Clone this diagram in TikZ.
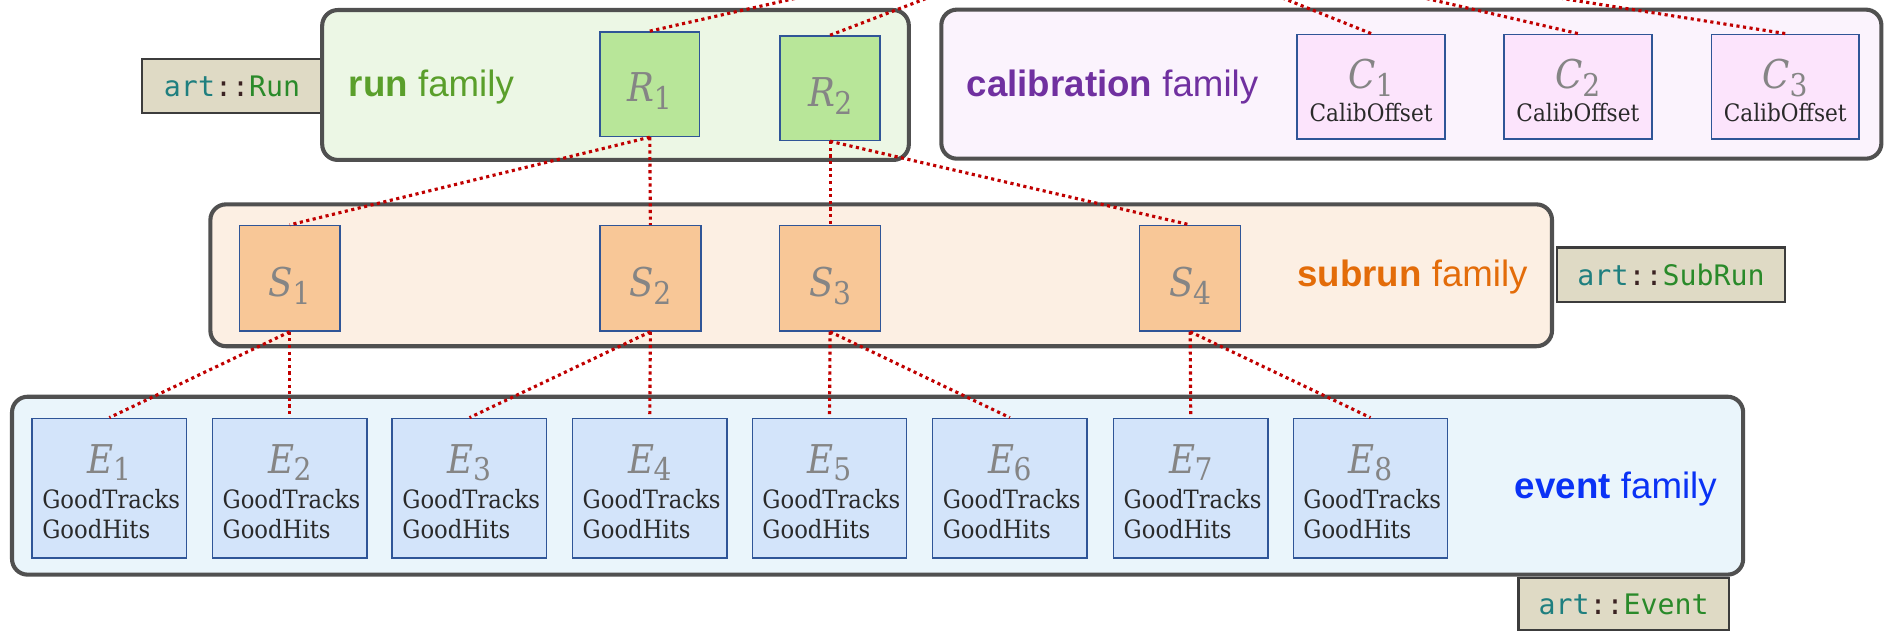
\documentclass[tikz,border=0pt]{standalone}
\usepackage{fontspec}
\setsansfont{Liberation Sans}
\newfontfamily\monof{DejaVu Sans Mono}
\newfontfamily\prodf{DejaVu Serif Condensed}
\definecolor{famborder}{HTML}{505050}
\definecolor{artborder}{HTML}{3C3C3C}
\definecolor{artfill}{HTML}{DFDAC5}
\definecolor{artteal}{HTML}{1F7F7F}
\definecolor{artdark}{HTML}{3A2222}
\definecolor{artgreen}{HTML}{2A8A2A}
\definecolor{runfill}{HTML}{ECF7E5}
\definecolor{rfill}{HTML}{B8E699}
\definecolor{calfill}{HTML}{FBF3FD}
\definecolor{cfill}{HTML}{FCE4FC}
\definecolor{subfill}{HTML}{FCEFE3}
\definecolor{sfill}{HTML}{F8C797}
\definecolor{evfill}{HTML}{EAF5FB}
\definecolor{efill}{HTML}{D3E4FA}
\definecolor{elemborder}{HTML}{2F5597}
\definecolor{symgray}{HTML}{858585}
\definecolor{prodtext}{HTML}{2A2A2A}
\definecolor{runcol}{HTML}{5A9F2B}
\definecolor{calcol}{HTML}{7030A0}
\definecolor{subcol}{HTML}{E36C09}
\definecolor{evcol}{HTML}{0A32F5}
\definecolor{linkred}{HTML}{C00000}
\newcommand{\artname}[1]{\textcolor{artteal}{art}\textcolor{artdark}{::}\textcolor{artgreen}{#1}}
\newcommand{\symlab}[2]{{\itshape #1}\kern-0.5pt\raisebox{-6.4pt}{\fontsize{26}{27}\selectfont #2}}
\begin{document}
\begin{tikzpicture}[x=1pt,y=-1pt,
  fam/.style={draw=famborder, line width=3.4pt, rounded corners=13pt, inner sep=0pt},
  artbox/.style={draw=artborder, line width=2pt, fill=artfill, inner sep=0pt, font=\monof\fontsize{23.5}{28}\selectfont},
  elem/.style={draw=elemborder, line width=1.2pt, inner sep=0pt},
  sym/.style={text=symgray, font=\prodf\fontsize{33}{36}\selectfont, anchor=base, inner sep=0pt},
  prod/.style={text=prodtext, font=\prodf\fontsize{21}{24}\selectfont, anchor=base west, inner sep=0pt},
  prodc/.style={text=prodtext, font=\prodf\fontsize{20}{24}\selectfont, anchor=base, inner sep=0pt},
  famlabel/.style={font=\sffamily\fontsize{30.5}{36}\selectfont, anchor=base west, inner sep=0pt},
  link/.style={draw=linkred, line width=2.6pt, dash pattern=on 2.6pt off 2.9pt}]
\useasboundingbox (0,0) rectangle (1568,525);

% art:: label boxes
\node[artbox, minimum width=150pt, minimum height=45pt] (artrun) at (193,71.5) {\artname{Run}};
\node[artbox, minimum width=190pt, minimum height=45pt] (artsub) at (1390,228.5) {\artname{SubRun}};
\node[artbox, minimum width=175pt, minimum height=43pt] (artev) at (1350.5,502.5) {\artname{Event}};

% family boxes
\node[fam, fill=runfill, minimum width=488pt, minimum height=124.7pt] (runfam) at (512,70.7) {};
\node[fam, fill=calfill, minimum width=782pt, minimum height=124pt] (calfam) at (1174,70) {};
\node[fam, fill=subfill, minimum width=1116pt, minimum height=118pt] (subfam) at (733,229) {};
\node[fam, fill=evfill, minimum width=1440pt, minimum height=148pt] (evfam) at (730,404) {};

% family labels
\node[famlabel, text=runcol] (runlab) at (290,80.4) {\textbf{run} family};
\node[famlabel, text=calcol] (callab) at (804,80.4) {\textbf{calibration} family};
\node[famlabel, text=subcol] (sublab) at (1079,238.5) {\textbf{subrun} family};
\node[famlabel, text=evcol] (evlab) at (1260,415) {\textbf{event} family};

% run elements
\node[elem, fill=rfill, minimum width=83pt, minimum height=87pt] (R1) at (540.5,70) {};
\node[sym] (R1s) at (540.5,84.6) {\symlab{R}{1}};
\node[elem, fill=rfill, minimum width=83pt, minimum height=87pt] (R2) at (690.5,73.4) {};
\node[sym] (R2s) at (690.5,88.7) {\symlab{R}{2}};

% calibration elements
\foreach \i/\x in {1/1140.5,2/1312.5,3/1485}{
  \node[elem, fill=cfill, minimum width=123pt, minimum height=87pt] (C\i) at (\x,72) {};
  \node[sym] (C\i-s) at (\x,73.5) {\symlab{C}{\i}};
  \node[prodc] (C\i-a) at (\x,101) {CalibOffset};
}

% subrun elements
\foreach \i/\x in {1/241,2/541,3/690.5,4/990}{
  \node[elem, fill=sfill, minimum width=84pt, minimum height=87.7pt] (S\i) at (\x,231.5) {};
  \node[sym] (S\i-s) at (\x,246.8) {\symlab{S}{\i}};
}

% event elements
\foreach \i/\x in {1/91,2/241,3/390.5,4/540.5,5/690,6/840,7/990.5,8/1140}{
  \node[elem, fill=efill, minimum width=128.5pt, minimum height=116pt] (E\i) at (\x,406) {};
  \node[sym] (E\i-s) at (\x,393.7) {\symlab{E}{\i}};
  \node[prod] (E\i-a) at (\x-56,423) {GoodTracks};
  \node[prod] (E\i-b) at (\x-56,448.3) {GoodHits};
}

% free ends above the picture
\coordinate (tR1) at (655.5,0);
\coordinate (tR2) at (767,0);
\coordinate (tC1) at (1071,0);
\coordinate (tC2) at (1192,0);
\coordinate (tC3) at (1307.5,0);

% connectors
\draw[link, shorten >=-8pt] (R1.north) -- (tR1);
\draw[link, shorten >=-8pt] (R2.north) -- (tR2);
\draw[link, shorten >=-8pt] (C1.north) -- (tC1);
\draw[link, shorten >=-8pt] (C2.north) -- (tC2);
\draw[link, shorten >=-8pt] (C3.north) -- (tC3);
\draw[link] (R1.south) -- (S1.north);
\draw[link] (R1.south) -- (S2.north);
\draw[link] (R2.south) -- (S3.north);
\draw[link] (R2.south) -- (S4.north);
\draw[link] (S1.south) -- (E1.north);
\draw[link] (S1.south) -- (E2.north);
\draw[link] (S2.south) -- (E3.north);
\draw[link] (S2.south) -- (E4.north);
\draw[link] (S3.south) -- (E5.north);
\draw[link] (S3.south) -- (E6.north);
\draw[link] (S4.south) -- (E7.north);
\draw[link] (S4.south) -- (E8.north);
\end{tikzpicture}
\end{document}
